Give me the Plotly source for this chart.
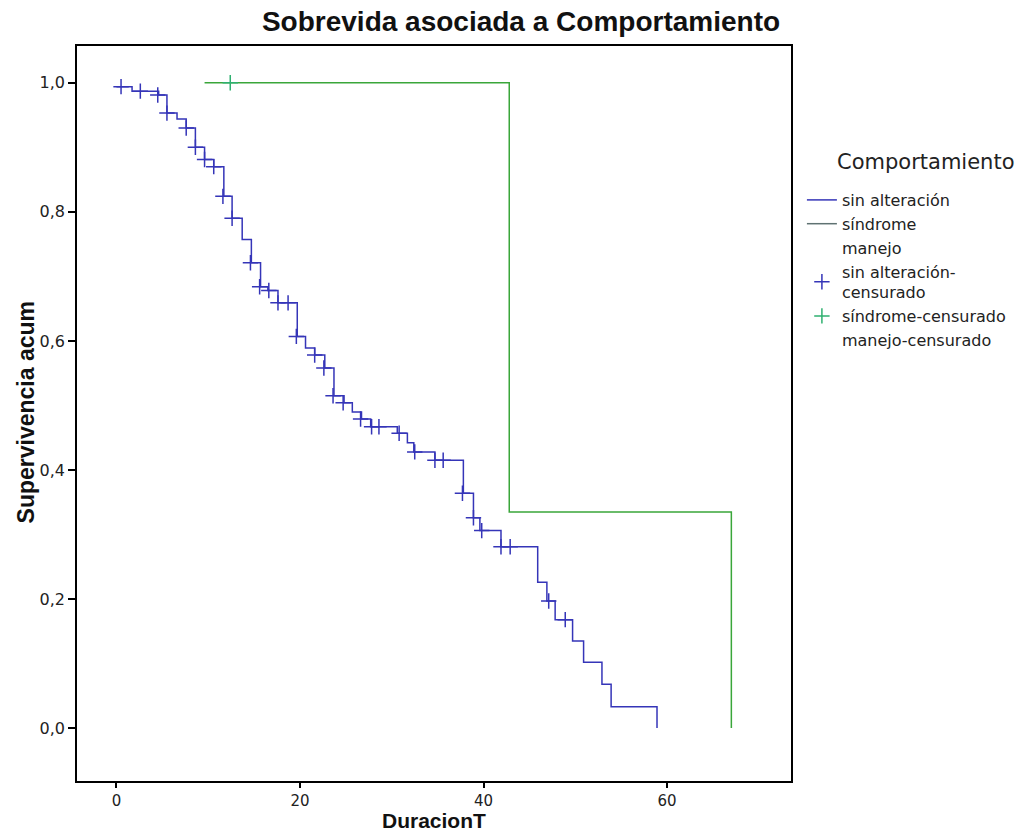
import plotly.graph_objects as go

# ---- data ----
sin_t = [0, 1.7, 4.6, 5.5, 6.6, 7.6, 8.6, 9.6, 10.6, 11.7,
         12.6, 13.7, 14.7, 15.7, 16.5, 17.6, 19.7, 20.6, 21.6, 22.7,
         23.7, 24.8, 25.7, 26.7, 27.7, 30.6, 31.7, 32.4, 34.7, 37.8,
         38.9, 39.6, 41.9, 45.9, 46.9, 47.8, 49.7, 50.9, 52.9, 53.9,
         58.9]
sin_s = [0.994, 0.987, 0.981, 0.953, 0.944, 0.930, 0.900, 0.881, 0.870, 0.824,
         0.790, 0.757, 0.721, 0.684, 0.678, 0.659, 0.607, 0.589, 0.578, 0.558,
         0.515, 0.504, 0.490, 0.479, 0.467, 0.457, 0.442, 0.428, 0.415, 0.364,
         0.326, 0.306, 0.281, 0.226, 0.197, 0.168, 0.135, 0.102, 0.068, 0.033,
         0.0]
sin_cens_t = [0.5, 2.6, 4.5, 5.5, 7.6, 8.6, 9.6, 10.6, 11.6, 12.6, 14.6, 15.6,
              16.6, 17.6, 18.7, 19.6, 21.6, 22.6, 23.6, 24.7, 26.6, 27.8, 28.6,
              30.8, 32.5, 34.7, 35.6, 37.7, 38.9, 39.8, 41.9, 42.9, 47.1, 48.9]
sin_cens_s = [0.994, 0.987, 0.981, 0.953, 0.930, 0.900, 0.881, 0.870, 0.824, 0.790,
              0.721, 0.684, 0.678, 0.659, 0.659, 0.607, 0.578, 0.558, 0.515, 0.504,
              0.479, 0.467, 0.467, 0.457, 0.428, 0.415, 0.415, 0.364, 0.326, 0.306,
              0.281, 0.281, 0.197, 0.168]

sind_t = [9.6, 42.8, 67.0]
sind_s = [1.0, 0.335, 0.0]
sind_cens_t = [12.4]
sind_cens_s = [1.0]

x_ticks = [0, 20, 40, 60]
y_ticks = [0, 0.2, 0.4, 0.6, 0.8, 1.0]

BLUE = "#3535b8"
GREEN = "#3aa63a"
GREEN_C = "#2fb070"
GREY = "#5f7272"

fig = go.Figure()

# curves
fig.add_trace(go.Scatter(x=sin_t, y=sin_s, mode="lines", line=dict(shape="hv", color=BLUE, width=1.5),
                         name="sin alteración", showlegend=True))
fig.add_trace(go.Scatter(x=sind_t, y=sind_s, mode="lines", line=dict(shape="hv", color=GREEN, width=1.5),
                         name="síndrome", showlegend=False))
# legend-only entries
fig.add_trace(go.Scatter(x=[None], y=[None], mode="lines", line=dict(color=GREY, width=1.5), name="síndrome"))
fig.add_trace(go.Scatter(x=[None], y=[None], mode="lines", line=dict(color="rgba(0,0,0,0)", width=1.5), name="manejo"))
# censored marks
fig.add_trace(go.Scatter(x=sin_cens_t, y=sin_cens_s, mode="markers",
                         marker=dict(symbol="cross-thin", size=11, line=dict(color=BLUE, width=1.5)),
                         name="sin alteración-<br>censurado"))
fig.add_trace(go.Scatter(x=sind_cens_t, y=sind_cens_s, mode="markers",
                         marker=dict(symbol="cross-thin", size=11, line=dict(color=GREEN_C, width=1.5)),
                         name="síndrome-censurado"))
fig.add_trace(go.Scatter(x=[None], y=[None], mode="markers",
                         marker=dict(symbol="cross-thin", size=11, line=dict(color="rgba(0,0,0,0)", width=1.5)),
                         name="manejo-censurado"))

W, H = 1023, 834
L, R, T, B = 77, 226, 46, 53
pw, ph = W - L - R, H - T - B

def px_x(px):
    return (px - L) / pw

def px_y(py):
    return (H - B - py) / ph

fig.update_layout(
    width=W, height=H,
    margin=dict(l=L, r=R, t=T, b=B, pad=0),
    paper_bgcolor="white", plot_bgcolor="white",
    separators=",.",
    font=dict(family="DejaVu Sans", size=16, color="#222"),
    title=dict(text="<b>Sobrevida asociada a Comportamiento</b>",
               x=521 / W, xanchor="center", xref="container",
               y=1 - 21 / H, yanchor="middle", yref="container",
               font=dict(family="Liberation Sans", size=28, color="#111")),
    legend=dict(x=px_x(808), xanchor="left", y=px_y(183), yanchor="top",
                font=dict(family="DejaVu Sans", size=16, color="#222"),
                bgcolor="rgba(0,0,0,0)", tracegroupgap=0),
    showlegend=True,
)

fig.update_xaxes(range=[-4.3, 73.5], tickmode="array", tickvals=x_ticks,
                 showgrid=False, zeroline=False, showline=True, mirror=True,
                 linecolor="black", linewidth=1.5, ticks="outside", ticklen=5,
                 tickcolor="black", tickwidth=1.5,
                 tickfont=dict(family="DejaVu Sans", size=15, color="#222"))
fig.update_yaxes(range=[-0.082, 1.057], tickmode="array", tickvals=y_ticks,
                 tickformat=".1f",
                 showgrid=False, zeroline=False, showline=True, mirror=True,
                 linecolor="black", linewidth=1.5, ticks="outside", ticklen=7,
                 tickcolor="black", tickwidth=1.5,
                 tickfont=dict(family="DejaVu Sans", size=16, color="#222"))

fig.add_annotation(text="<b>DuracionT</b>", xref="paper", yref="paper",
                   x=px_x(437), y=px_y(834), xanchor="center", yanchor="bottom",
                   showarrow=False, font=dict(family="Liberation Sans", size=21, color="#111"))
fig.add_annotation(text="<b>Supervivencia acum</b>", xref="paper", yref="paper",
                   x=px_x(26), y=px_y(412), xanchor="center", yanchor="middle", textangle=-90,
                   showarrow=False, font=dict(family="Liberation Sans", size=23, color="#111"))
fig.add_annotation(text="Comportamiento", xref="paper", yref="paper",
                   x=px_x(841), y=px_y(162), xanchor="left", yanchor="middle",
                   showarrow=False, font=dict(family="DejaVu Sans", size=21, color="#222"))

fig.write_html("out.html")
